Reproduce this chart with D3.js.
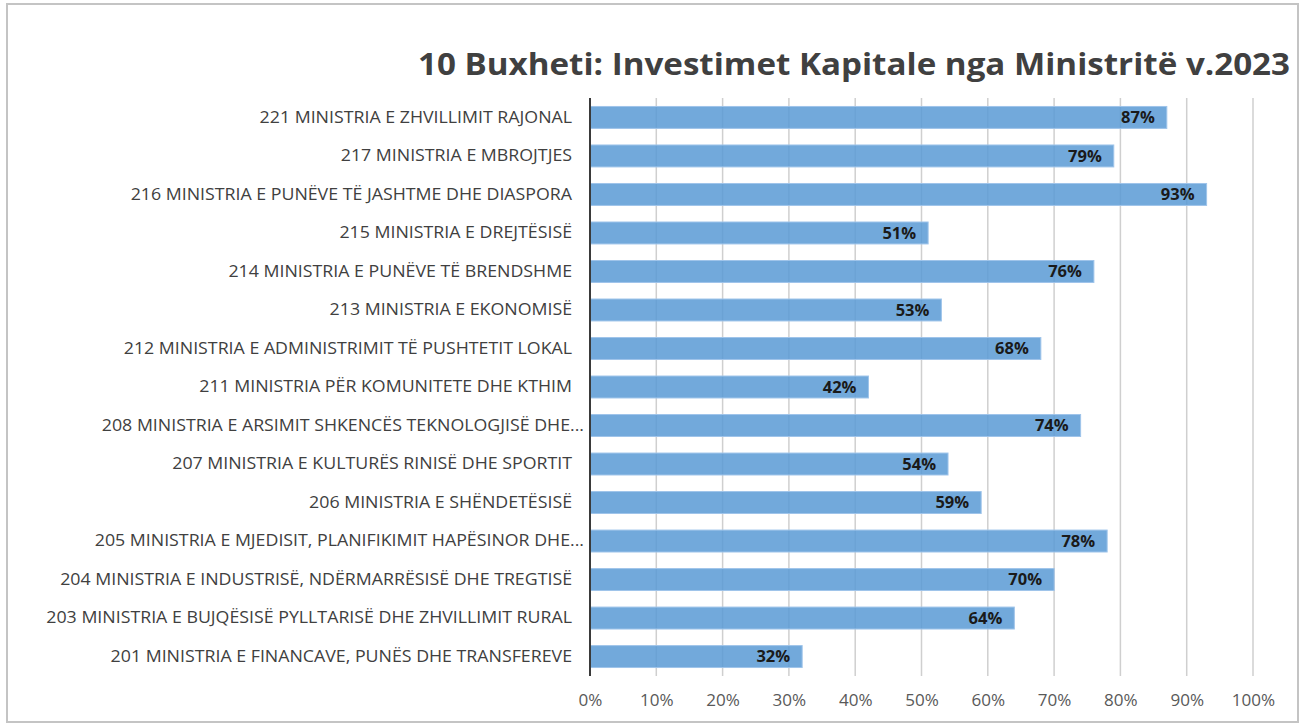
<!DOCTYPE html>
<html>
<head>
<meta charset="utf-8">
<script src="https://cdn.jsdelivr.net/npm/d3@7"></script>
<style>
  body { margin: 0; background: #fff; }
  svg { display: block; }
</style>
</head>
<body>
<svg id="chart" width="1303" height="725" viewBox="0 0 1303 725"></svg>
<script>
// ministries, top to bottom as shown
const ministries = [
    "221 MINISTRIA E ZHVILLIMIT RAJONAL",
    "217 MINISTRIA E MBROJTJES",
    "216 MINISTRIA E PUNËVE TË JASHTME DHE DIASPORA",
    "215 MINISTRIA E DREJTËSISË",
    "214 MINISTRIA E PUNËVE TË BRENDSHME",
    "213 MINISTRIA E EKONOMISË",
    "212 MINISTRIA E ADMINISTRIMIT TË PUSHTETIT LOKAL",
    "211 MINISTRIA PËR KOMUNITETE DHE KTHIM",
    "208 MINISTRIA E ARSIMIT SHKENCËS TEKNOLOGJISË DHE...",
    "207 MINISTRIA E KULTURËS RINISË DHE SPORTIT",
    "206 MINISTRIA E SHËNDETËSISË",
    "205 MINISTRIA E MJEDISIT, PLANIFIKIMIT HAPËSINOR DHE...",
    "204 MINISTRIA E INDUSTRISË, NDËRMARRËSISË DHE TREGTISË",
    "203 MINISTRIA E BUJQËSISË PYLLTARISË DHE ZHVILLIMIT RURAL",
    "201 MINISTRIA E FINANCAVE, PUNËS DHE TRANSFEREVE"
]
const shares = [0.87, 0.79, 0.93, 0.51, 0.76, 0.53, 0.68, 0.42, 0.74, 0.54, 0.59, 0.78, 0.70, 0.64, 0.32]
const tickValues = [0, 0.1, 0.2, 0.3, 0.4, 0.5, 0.6, 0.7, 0.8, 0.9, 1.0]
const title = "10 Buxheti: Investimet Kapitale nga Ministritë v.2023"

const data = ministries.map(function(m, i) { return {name: m, value: shares[i]} })

let svg = d3.select("#chart")
let plotLeft = 590, plotRight = 1253, plotTop = 98, plotBottom = 676

// outer frame
svg.append("rect")
    .attr("x", 7).attr("y", 4)
    .attr("width", 1291).attr("height", 718)
    .attr("fill", "#fff")
    .attr("stroke", "#c4c4c4")
    .attr("stroke-width", 2)

let x = d3.scaleLinear().domain([0, 1]).range([plotLeft, plotRight])
let y = d3.scaleBand().domain(ministries).range([plotTop, plotBottom]).paddingInner(0.43).paddingOuter(0.22)

// gridlines
svg.append("g")
    .selectAll("line")
    .data(tickValues.slice(1))
    .enter()
    .append("line")
    .attr("x1", function(d) { return x(d) })
    .attr("x2", function(d) { return x(d) })
    .attr("y1", plotTop)
    .attr("y2", plotBottom)
    .attr("stroke", "#cfcfcf")
    .attr("stroke-width", 1.5)

// bars (a little see-through, gridlines show faintly)
svg.append("g")
    .selectAll("rect")
    .data(data)
    .enter()
    .append("rect")
    .attr("x", x(0))
    .attr("y", function(d) { return y(d.name) })
    .attr("width", function(d) { return x(d.value) - x(0) })
    .attr("height", y.bandwidth())
    .attr("fill", "#5b9bd5")
    .attr("fill-opacity", 0.86)
    .attr("stroke", "#9fc4ea")
    .attr("stroke-width", 1)

// value labels
svg.append("g")
    .selectAll("text")
    .data(data)
    .enter()
    .append("text")
    .attr("x", function(d) { return x(d.value) - 12 })
    .attr("y", function(d) { return y(d.name) + y.bandwidth() / 2 })
    .attr("dy", "0.36em")
    .attr("text-anchor", "end")
    .attr("font-family", "Open Sans, sans-serif")
    .attr("font-weight", "bold")
    .attr("font-size", 16.5)
    .attr("fill", "#1a1a1a")
    .text(function(d) { return Math.round(d.value * 100) + "%" })

// category labels
let yAxis = svg.append("g")
    .attr("transform", `translate(${plotLeft},0)`)
    .call(d3.axisLeft(y).tickSize(0).tickPadding(18))
yAxis.select(".domain").remove()
yAxis.selectAll("text")
    .attr("font-family", "Open Sans, sans-serif")
    .attr("font-size", 16)
    .attr("fill", "#404040")

// fit labels to the reference widths; truncated ones sit closer to the axis
yAxis.selectAll("text").each(function(d) {
    let w = this.getComputedTextLength()
    let sel = d3.select(this).attr("textLength", w * 1.11).attr("lengthAdjust", "spacingAndGlyphs")
    if (d.endsWith("...")) sel.attr("x", -6)
})

// vertical axis line
svg.append("line")
    .attr("x1", plotLeft).attr("x2", plotLeft)
    .attr("y1", plotTop).attr("y2", plotBottom)
    .attr("stroke", "#3a3a3a")
    .attr("stroke-width", 2)

// x tick labels
let xAxis = svg.append("g")
    .attr("transform", `translate(0,${plotBottom})`)
    .call(d3.axisBottom(x).tickValues(tickValues).tickFormat(d3.format(".0%")).tickSize(0).tickPadding(19))
xAxis.select(".domain").remove()
xAxis.selectAll("text")
    .attr("font-family", "Open Sans, sans-serif")
    .attr("font-size", 15.5)
    .attr("fill", "#595959")
xAxis.selectAll("text").each(function() {
    let w = this.getComputedTextLength()
    d3.select(this).attr("textLength", w * 1.1).attr("lengthAdjust", "spacingAndGlyphs")
})

// title
svg.append("text")
    .attr("x", 1290)
    .attr("y", 75)
    .attr("text-anchor", "end")
    .attr("font-family", "Open Sans, sans-serif")
    .attr("font-weight", "bold")
    .attr("font-size", 30)
    .attr("fill", "#404040")
    .attr("textLength", 872)
    .attr("lengthAdjust", "spacingAndGlyphs")
    .text(title)
</script>
</body>
</html>
